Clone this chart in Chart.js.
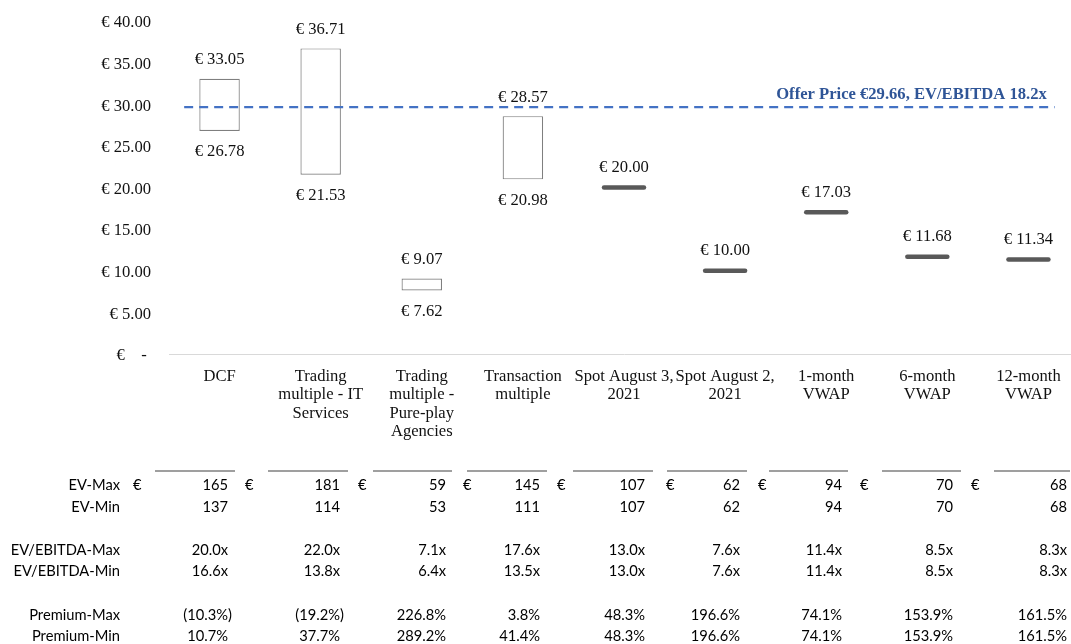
<!DOCTYPE html>
<html>
<head>
<meta charset="utf-8">
<title>Valuation summary</title>
<script src="https://cdn.jsdelivr.net/npm/chart.js@4.4.1/dist/chart.umd.min.js"></script>
<style>
  html, body { margin: 0; padding: 0; background: #ffffff; overflow: hidden; }
  #wrap { width: 1080px; height: 644px; }
</style>
</head>
<body>
<div id="wrap"><canvas id="chart" width="1080" height="644"></canvas></div>
<script>
// ---- Data ----
const categories = [
  ['DCF'],
  ['Trading', 'multiple - IT', 'Services'],
  ['Trading', 'multiple -', 'Pure-play', 'Agencies'],
  ['Transaction', 'multiple'],
  ['Spot August 3,', '2021'],
  ['Spot August 2,', '2021'],
  ['1-month', 'VWAP'],
  ['6-month', 'VWAP'],
  ['12-month', 'VWAP']
];
const rangeMin = [26.78, 21.53, 7.62, 20.98, null, null, null, null, null];
const rangeMax = [33.05, 36.71, 9.07, 28.57, null, null, null, null, null];
const pointPrice = [null, null, null, null, 20.00, 10.00, 17.03, 11.68, 11.34];
const offerPrice = 29.66;
const offerLabel = 'Offer Price €29.66, EV/EBITDA 18.2x';
const yTickValues = [0, 5, 10, 15, 20, 25, 30, 35, 40];

const rowLabels = ['EV-Max', 'EV-Min', 'EV/EBITDA-Max', 'EV/EBITDA-Min', 'Premium-Max', 'Premium-Min'];
const evMax = [165, 181, 59, 145, 107, 62, 94, 70, 68];
const evMin = [137, 114, 53, 111, 107, 62, 94, 70, 68];
const evEbitdaMax = [20.0, 22.0, 7.1, 17.6, 13.0, 7.6, 11.4, 8.5, 8.3];
const evEbitdaMin = [16.6, 13.8, 6.4, 13.5, 13.0, 7.6, 11.4, 8.5, 8.3];
const premiumMax = [-10.3, -19.2, 226.8, 3.8, 48.3, 196.6, 74.1, 153.9, 161.5];
const premiumMin = [10.7, 37.7, 289.2, 41.4, 48.3, 196.6, 74.1, 153.9, 161.5];

// ---- Layout of the table under the chart ----
const tableLayout = {
  labelRight: 120,
  rowY: [485, 507, 550, 571, 615, 636],
  ruleY: 471,
  euroLeft: [133, 245, 358, 463, 557, 666, 758, 860, 971],
  valueRight: [228, 340, 446, 540, 645, 740, 842, 953, 1067],
  ruleSpan: [[155, 235], [268, 348], [373, 452], [467, 547], [573, 653], [667, 747], [769, 848], [882, 961], [994, 1070]]
};

const SERIF = '"Liberation Serif", "Times New Roman", serif';
const SANS = 'Lato, "Liberation Sans", sans-serif';
const SERIF_SIZE = 16.6;

const euro = v => '€ ' + v.toFixed(2);

// Round caps for the single-price bars
const roundCaps = {
  id: 'roundCaps',
  beforeDatasetDraw(chart, args) {
    if (args.index === 1) { chart.ctx.save(); chart.ctx.lineCap = 'round'; }
  },
  afterDatasetDraw(chart, args) {
    if (args.index === 1) chart.ctx.restore();
  }
};

// Labels above / below each box and above each single-price bar
const valueLabels = {
  id: 'valueLabels',
  afterDatasetsDraw(chart) {
    const ctx = chart.ctx;
    ctx.save();
    ctx.font = SERIF_SIZE + 'px ' + SERIF;
    ctx.fillStyle = '#111';
    ctx.textAlign = 'center';
    ctx.textBaseline = 'middle';
    chart.getDatasetMeta(0).data.forEach((el, i) => {
      if (rangeMin[i] == null) return;
      ctx.fillText(euro(rangeMax[i]), el.x, el.y - 19);
      ctx.fillText(euro(rangeMin[i]), el.x, el.base + 21);
    });
    chart.getDatasetMeta(1).data.forEach((el, i) => {
      if (pointPrice[i] == null) return;
      ctx.fillText(euro(pointPrice[i]), el.x, el.y - 20);
    });
    ctx.restore();
  }
};

// Dashed offer-price reference line with its caption
const offerLine = {
  id: 'offerLine',
  afterDatasetsDraw(chart) {
    const { ctx, scales: { x, y } } = chart;
    const py = y.getPixelForValue(offerPrice);
    const x0 = x.getPixelForValue(-0.35);
    const x1 = x.getPixelForValue(8.26);
    ctx.save();
    ctx.strokeStyle = '#4472C4';
    ctx.lineWidth = 2.2;
    ctx.setLineDash([9, 6]);
    ctx.beginPath();
    ctx.moveTo(x0, py);
    ctx.lineTo(x1, py);
    ctx.stroke();
    ctx.setLineDash([]);
    ctx.font = 'bold ' + SERIF_SIZE + 'px ' + SERIF;
    ctx.fillStyle = '#2F5597';
    ctx.textAlign = 'right';
    ctx.textBaseline = 'middle';
    ctx.fillText(offerLabel, x1 - 8, py - 12);
    ctx.restore();
  }
};

// Summary table of enterprise values, multiples and premiums
const summaryTable = {
  id: 'summaryTable',
  afterDraw(chart) {
    const ctx = chart.ctx;
    const L = tableLayout;
    ctx.save();
    ctx.font = '14.7px ' + SANS;
    ctx.fillStyle = '#000';
    ctx.textBaseline = 'middle';

    ctx.textAlign = 'right';
    rowLabels.forEach((t, r) => ctx.fillText(t, L.labelRight, L.rowY[r]));

    ctx.strokeStyle = '#404040';
    ctx.lineWidth = 1.2;
    L.ruleSpan.forEach(([a, b]) => {
      ctx.beginPath();
      ctx.moveTo(a, L.ruleY);
      ctx.lineTo(b, L.ruleY);
      ctx.stroke();
    });

    const pct = v => v < 0 ? '(' + Math.abs(v).toFixed(1) + '%)' : v.toFixed(1) + '%';
    const closeW = ctx.measureText(')').width;
    const rows = [
      evMax.map(String),
      evMin.map(String),
      evEbitdaMax.map(v => v.toFixed(1) + 'x'),
      evEbitdaMin.map(v => v.toFixed(1) + 'x'),
      premiumMax.map(pct),
      premiumMin.map(pct)
    ];
    const negRows = [null, null, null, null, premiumMax, premiumMin];
    rows.forEach((vals, r) => {
      vals.forEach((t, c) => {
        const neg = negRows[r] && negRows[r][c] < 0;
        ctx.textAlign = 'right';
        ctx.fillText(t, L.valueRight[c] + (neg ? closeW : 0), L.rowY[r]);
      });
    });

    ctx.textAlign = 'left';
    L.euroLeft.forEach(xp => ctx.fillText('€', xp, L.rowY[0]));
    ctx.restore();
  }
};

new Chart(document.getElementById('chart'), {
  data: {
    labels: categories,
    datasets: [
      {
        type: 'bar',
        label: 'Range',
        data: rangeMin.map((v, i) => v == null ? null : [v, rangeMax[i]]),
        backgroundColor: '#ffffff',
        borderColor: '#7f7f7f',
        borderWidth: 1.2,
        borderSkipped: false,
        categoryPercentage: 1,
        barPercentage: 0.4,
        grouped: false,
        order: 2
      },
      {
        type: 'line',
        label: 'Price',
        data: pointPrice,
        showLine: false,
        pointStyle: 'line',
        pointRadius: 20,
        pointHoverRadius: 20,
        pointBorderWidth: 4.5,
        pointHoverBorderWidth: 4.5,
        pointBorderColor: '#595959',
        pointBackgroundColor: '#595959',
        order: 1
      }
    ]
  },
  options: {
    responsive: false,
    devicePixelRatio: 1,
    animation: false,
    events: [],
    layout: { autoPadding: false, padding: { top: 21, right: 1, left: 0, bottom: 0 } },
    plugins: { legend: { display: false }, tooltip: { enabled: false } },
    scales: {
      x: {
        grid: { display: false },
        border: { display: true, color: '#d9d9d9', width: 1 },
        ticks: {
          autoSkip: false,
          maxRotation: 0,
          padding: 5,
          color: '#111',
          font: { family: SERIF, size: SERIF_SIZE, lineHeight: 1.115 }
        },
        afterFit(scale) {
          scale.height = 290;
          scale.paddingLeft = 0;
          scale.paddingRight = 0;
        }
      },
      y: {
        min: 0,
        max: 40,
        grid: { display: false, drawTicks: false },
        border: { display: false },
        afterBuildTicks(scale) { scale.ticks = yTickValues.map(v => ({ value: v })); },
        ticks: {
          padding: 18,
          labelOffset: 2,
          color: '#111',
          font: { family: SERIF, size: SERIF_SIZE },
          callback: v => v === 0 ? '€    - ' : euro(v)
        },
        afterFit(scale) {
          scale.width = 169;
          scale.paddingTop = 0;
          scale.paddingBottom = 0;
        }
      }
    }
  },
  plugins: [roundCaps, valueLabels, offerLine, summaryTable]
});
</script>
</body>
</html>
